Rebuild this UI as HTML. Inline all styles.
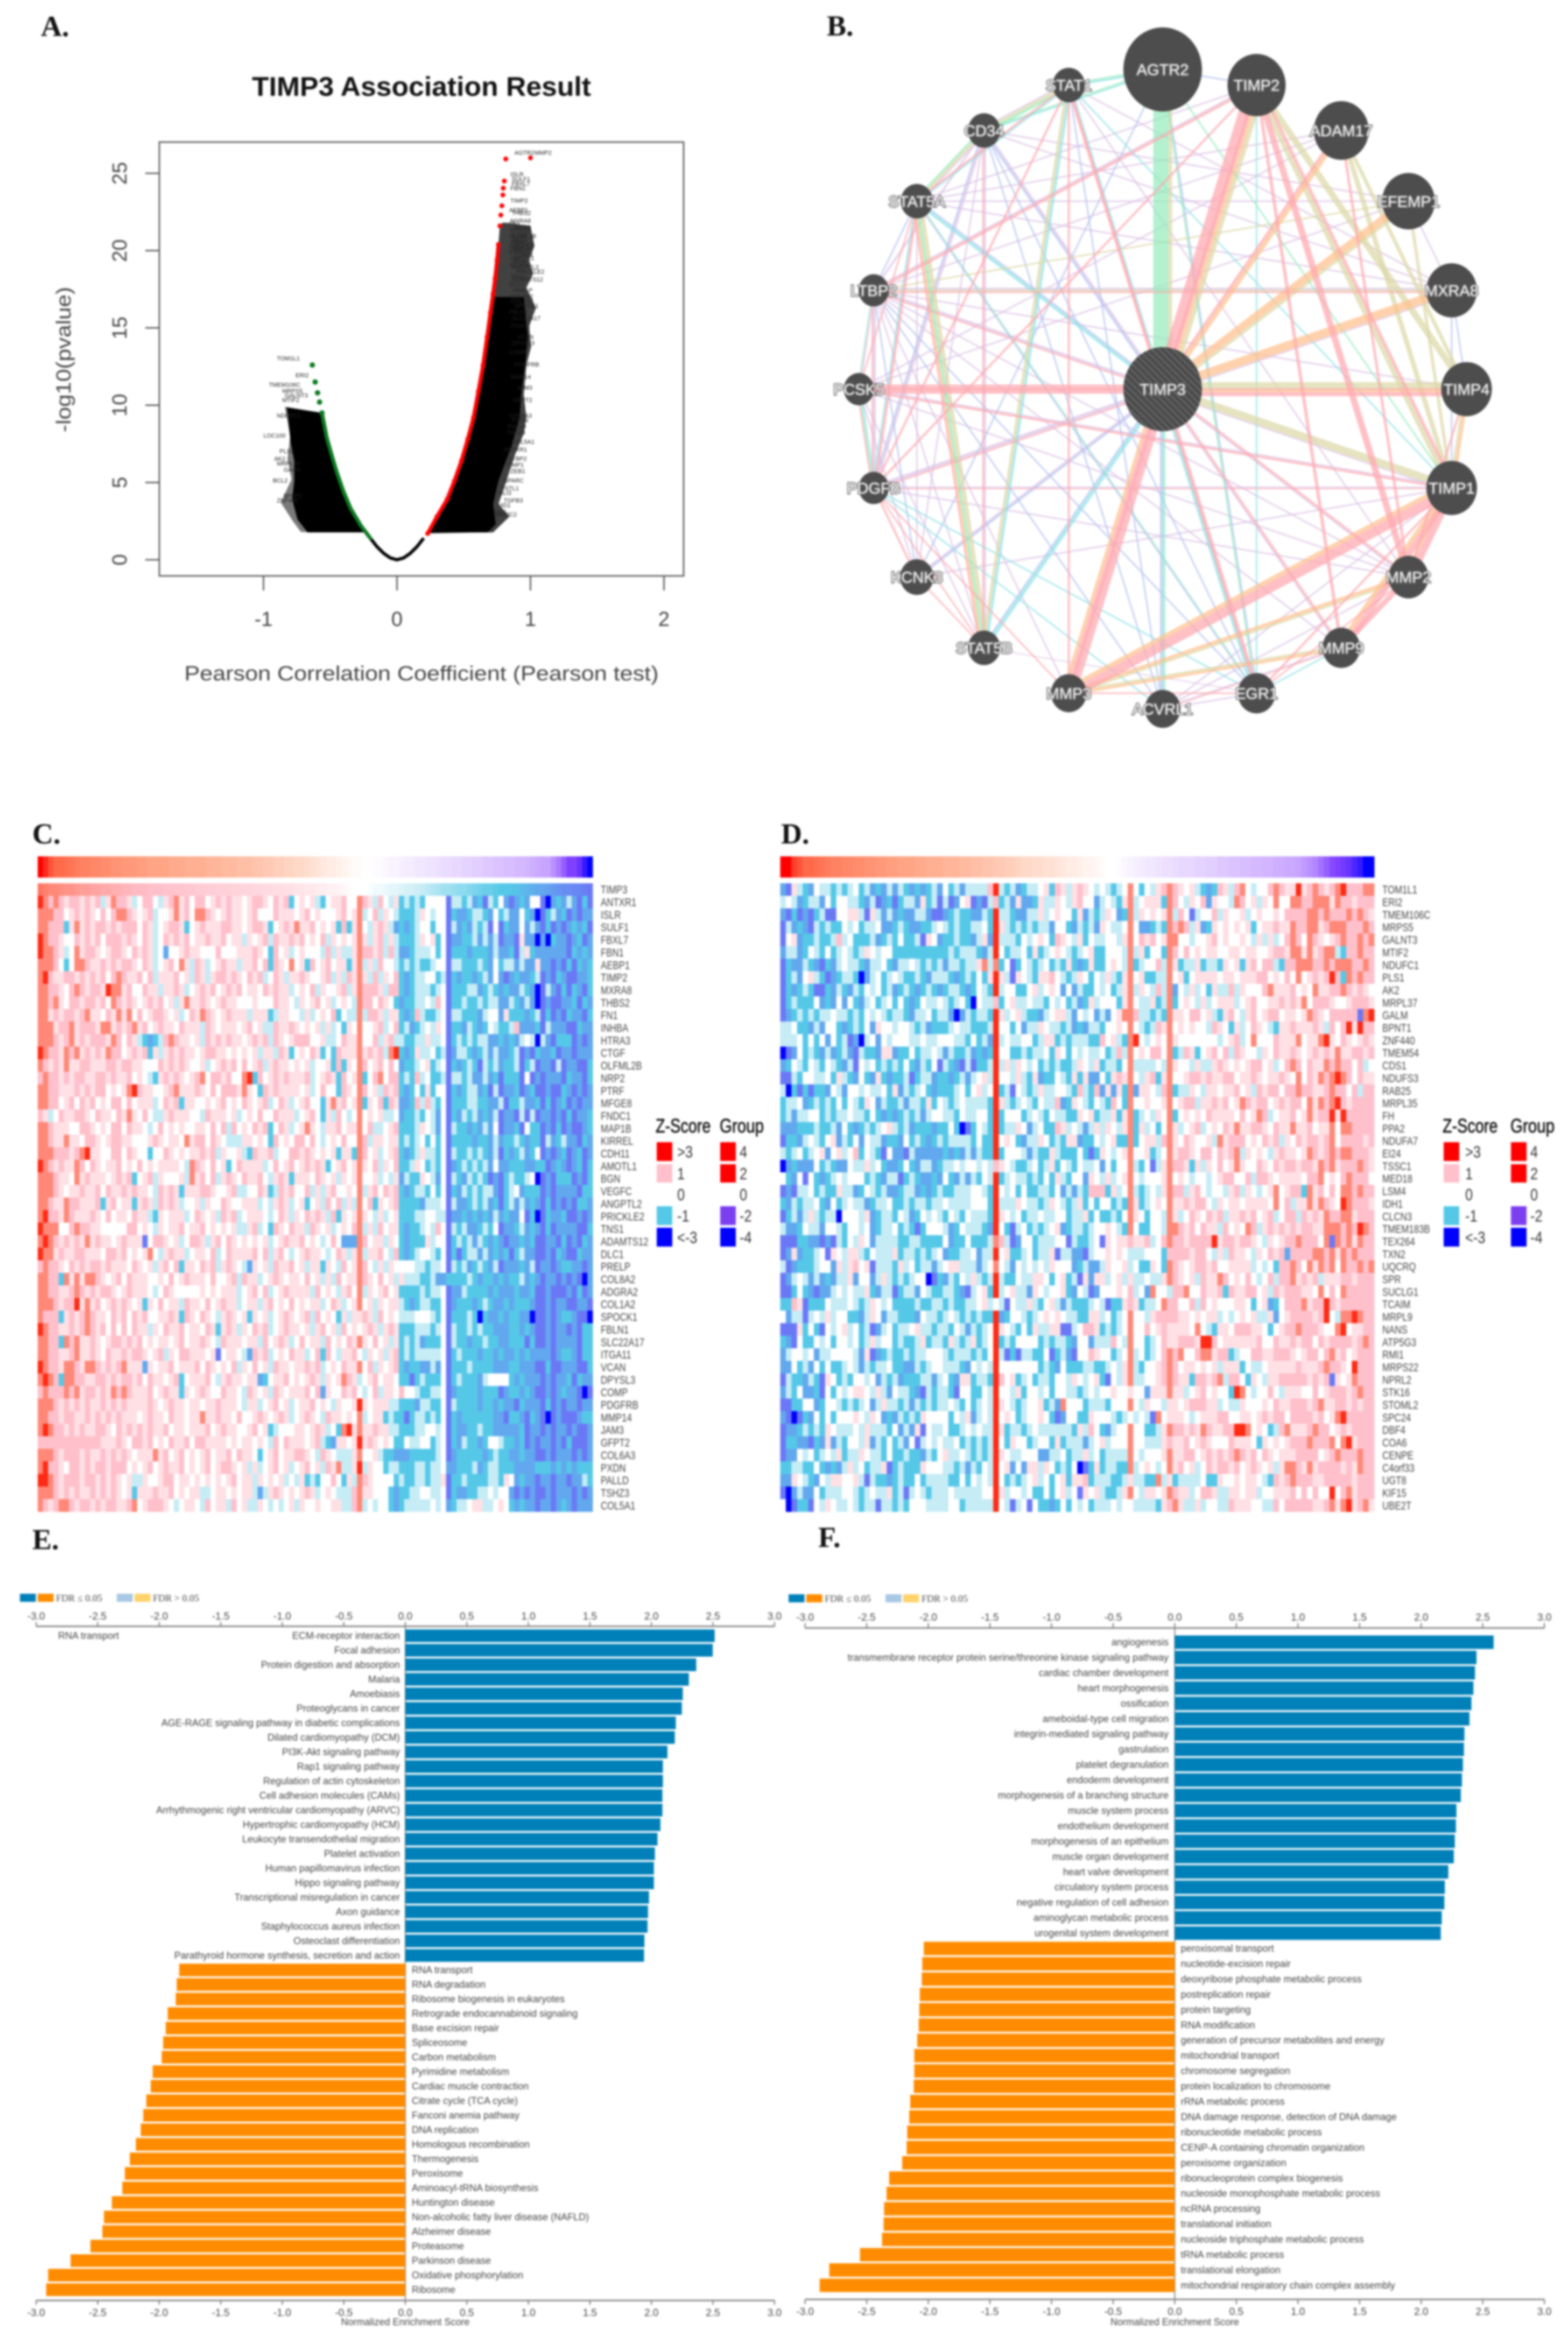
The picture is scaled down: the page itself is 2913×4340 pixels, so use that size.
<!DOCTYPE html>
<html lang="en">
<head>
<meta charset="utf-8">
<title>TIMP3 association figure</title>
<style>
html,body{margin:0;padding:0;background:#fff}
svg{display:block;filter:blur(1.9px);font-family:"Liberation Sans",sans-serif}
.plabel{font-family:"Liberation Serif",serif;font-weight:bold;font-size:54px;fill:#111}
</style>
</head>
<body>
<svg id="fig" xmlns="http://www.w3.org/2000/svg" width="2913" height="4340" viewBox="0 0 2913 4340">
<rect width="2913" height="4340" fill="#fff"/>
<defs>
<pattern id="hatch" width="9" height="9" patternUnits="userSpaceOnUse" patternTransform="rotate(-45)"><rect width="9" height="9" fill="#4a4a4a"/><rect width="2.5" height="9" fill="#6a6a6a"/></pattern>
</defs>
<text class="plabel" x="76" y="67">A.</text>
<text class="plabel" x="1536" y="66">B.</text>
<text class="plabel" x="60" y="1567">C.</text>
<text class="plabel" x="1451" y="1567">D.</text>
<text class="plabel" x="60" y="2878">E.</text>
<text class="plabel" x="1520" y="2874">F.</text>

<g id="panelA">
<text x="783" y="178" text-anchor="middle" font-weight="bold" font-size="50" fill="#111" textLength="630" lengthAdjust="spacingAndGlyphs">TIMP3 Association Result</text>
<text x="783" y="1264" text-anchor="middle" font-size="38" fill="#444" textLength="881" lengthAdjust="spacingAndGlyphs">Pearson Correlation Coefficient (Pearson test)</text>
<text transform="translate(131 668) rotate(-90)" text-anchor="middle" font-size="38" fill="#444" textLength="270" lengthAdjust="spacingAndGlyphs">-log10(pvalue)</text>
</g>
<g id="panelB"></g>
<g id="panelC"></g>
<g id="panelD"></g>
<g id="panelE"></g>
<g id="panelF"></g>
</svg>
<script>
/* ---------- A. volcano data ---------- */
const volcanoXTicks=[-1,0,1,2];
const volcanoYTicks=[0,5,10,15,20,25];
const redR=[.23,.3,.375,.43,.483,.53,.573,.61,.645,.675,.70,.72,.735,.75,.76,.771,.778,.786,.793,.796,.804,.815,1];
const redP=[1.7,2.8,3.9,5.1,6.4,7.8,9.2,10.9,12.6,14.4,16,17.2,18.2,19.4,20.4,21.6,22.3,22.9,23.6,24.04,24.5,25.93,26];
const greenR=[-.634,-.613,-.595,-.58,-.562,-.526,-.49,-.454,-.4,-.346,-.27,-.2];
const greenP=[12.6,11.5,10.8,10.2,9.5,7.9,6.8,5.75,4.4,3.3,2.2,1.4];
const nullR=[-.2,-.15,-.1,-.05,0,.05,.1,.15,.2];
const nullP=[1.4,.85,.42,.12,0,.12,.42,.85,1.4];
const solidRightR=[.72,.95,.98,.96,.93,.92,.86,.76,.72,.74,.68,.23];
const solidRightP=[17,17,14.4,12.6,10.7,9.2,7.4,5.1,3.6,2.3,1.77,1.77];
const fringeRightR=[.79,.82,1.0,1.03,.99,1.02,.97,1.041,.99,1.005,.97,.95,.969,.951,.88,.82,.76,.843,.72,.6];
const fringeRightP=[21.8,21.8,21.6,20.3,19.4,18.5,17.6,16.3,15.1,13.8,12.6,10.7,9.2,8.2,6.7,5.1,3.6,2.8,1.77,1.77];
const solidLeftR=[-.826,-.815,-.797,-.77,-.77,-.785,-.745,-.67,-.25];
const solidLeftP=[9.86,9.2,7.6,6.4,5.1,3.9,2.6,1.77,1.77];
const fringeLeftR=[-.84,-.80,-.82,-.79,-.87,-.78,-.72,-.65];
const fringeLeftP=[9.9,8,6.5,5.2,3.7,2.5,1.8,1.77];
const volcanoLabelNames=["AGTR2","MMP2","ISLR","SULF1","FBXL7","FBN1","TIMP2","AEBP1","THBS2","MXRA8","FN1","INHBA","HTRA3","CTGF","OLFML2B","NRP2","PTRF","MFGE8","FNDC1","MAP1B","KIRREL","CDH11","AMOTL1","BGN","VEGFC","ANGPTL2","PRICKLE2","TNS1","ADAMTS12","DLC1","PRELP","COL8A2","COL1A2","SPOCK1","FBLN1","SLC22A17","ITGA11","VCAN","DPYSL3","COMP","PDGFRB","MMP14","JAM3","GFPT2","COL6A3","PXDN","PALLD","TSHZ3","COL5A1","ANTXR1","LTBP2","TIMP1","ZEB1","SPARC","FSTL1","GLI3","TGFB3","NID1","LOX","SMOC2"];
const volcanoLabelR=[.88,1.03,.85,.86,.86,.85,.85,.84,.86,.85,.84,.87,.85,.86,.84,.86,.85,.87,.84,.86,.84,.88,.85,.87,.84,.86,.89,.85,.86,.84,.87,.85,.85,.88,.84,.86,.85,.9,.86,.84,.88,.85,.9,.87,.84,.86,.83,.82,.86,.8,.84,.82,.85,.8,.78,.76,.8,.75,.73,.74];
const volcanoLabelP=[26.2,26.2,24.8,24.5,24.2,23.9,23.1,22.5,22.3,21.8,21.6,21.4,21.2,20.9,20.8,20.6,20.4,20.3,20.1,20,19.8,19.6,19.4,19.2,19,18.8,18.5,18.2,18,17.7,17.3,16.9,16.6,16.3,15.9,15.5,15,14.3,13.9,13.3,12.5,11.7,11,10.2,9.2,8.9,8.5,8.1,7.5,7,6.4,6,5.6,5,4.5,4.2,3.7,3.4,3,2.8];
const volcanoLeftNames=["TOM1L1","ERI2","TMEM106C","MRPS5","GALNT3","MTIF2","NDUFC1","LOC100","PLS1","AK2","MRPL37","GALM","BCL2","BPNT1","ZNF440"];
const volcanoLeftR=[-.9,-.76,-.96,-.86,-.84,-.86,-.9,-1.0,-.88,-.92,-.9,-.85,-.93,-.85,-.9];
const volcanoLeftP=[12.9,11.8,11.2,10.8,10.5,10.2,9.2,7.9,6.9,6.4,6.1,5.7,5,4,3.7];

/* ---------- B. network data ---------- */
const ringNames=["AGTR2","TIMP2","ADAM17","EFEMP1","MXRA8","TIMP4","TIMP1","MMP2","MMP9","EGR1","ACVRL1","MMP3","STAT5B","KCNK3","PDGFB","PCSK5","LTBP2","STAT5A","CD34","STAT1"];
const ringSizes=[73,54,51,49,47,47,47,37,35,35,33,33,30,31,28,28,28,30,30,30];
const purpleEdges=[["TIMP3","TIMP1",3],["TIMP3","MMP2",3],["TIMP3","MMP9",3],["TIMP3","KCNK3",3],["TIMP3","PDGFB",7],["TIMP3","LTBP2",5],["TIMP3","CD34",4],["TIMP3","MXRA8",3],["ADAM17","LTBP2",3],["EFEMP1","STAT5A",3],["EFEMP1","MXRA8",3],["EFEMP1","CD34",3],["EFEMP1","PCSK5",3],["MXRA8","LTBP2",4],["MXRA8","STAT1",3],["MXRA8","CD34",3],["TIMP1","PDGFB",3],["TIMP1","ACVRL1",3],["TIMP1","KCNK3",3],["MMP2","ACVRL1",3],["MMP2","PCSK5",3],["MMP2","STAT1",3],["MMP9","ACVRL1",3],["MMP9","LTBP2",3],["EGR1","ACVRL1",3],["EGR1","STAT5B",2],["MMP3","LTBP2",3],["STAT5B","CD34",4],["STAT5B","PCSK5",3],["STAT5B","LTBP2",3],["STAT5A","KCNK3",3],["STAT5A","CD34",3],["CD34","STAT1",3],["CD34","LTBP2",4],["CD34","PDGFB",5],["CD34","KCNK3",3],["LTBP2","PCSK5",4],["LTBP2","PDGFB",5],["LTBP2","MMP2",3],["PCSK5","KCNK3",3],["PCSK5","TIMP1",3],["PDGFB","MMP2",3],["TIMP2","LTBP2",3],["TIMP2","STAT5A",3],["ADAM17","STAT5A",3],["ADAM17","PCSK5",3],["TIMP4","LTBP2",3],["MXRA8","STAT5A",3]];
const blueEdges=[["TIMP3","ACVRL1",4],["TIMP3","STAT5B",3],["TIMP3","KCNK3",4],["TIMP3","STAT5A",3],["TIMP3","CD34",4],["MXRA8","TIMP1",3],["MXRA8","TIMP4",3],["EGR1","STAT5A",3],["EGR1","CD34",3],["ACVRL1","CD34",3],["ACVRL1","LTBP2",3],["ACVRL1","STAT1",3],["STAT5A","LTBP2",3],["CD34","PDGFB",3],["LTBP2","KCNK3",3],["LTBP2","EGR1",3],["KCNK3","AGTR2",3],["AGTR2","TIMP2",3],["AGTR2","EGR1",3]];
const cyanEdges=[["TIMP3","EGR1",7],["TIMP3","ACVRL1",3],["TIMP3","STAT5B",7],["TIMP3","STAT5A",6],["TIMP3","STAT1",3],["TIMP2","EGR1",3],["MMP9","EGR1",3],["STAT5B","STAT1",5],["STAT5A","STAT1",3],["STAT5A","PDGFB",3],["CD34","AGTR2",3],["STAT1","AGTR2",4],["PCSK5","PDGFB",3],["PDGFB","ACVRL1",3],["PDGFB","EGR1",3],["STAT1","TIMP1",3]];
const khakiEdges=[["TIMP3","AGTR2",7],["TIMP3","TIMP2",7],["TIMP3","EFEMP1",5],["TIMP3","TIMP4",14],["TIMP3","TIMP1",14],["TIMP2","TIMP1",9],["TIMP2","TIMP4",12],["ADAM17","TIMP1",9],["ADAM17","TIMP4",7],["EFEMP1","TIMP1",6],["EFEMP1","LTBP2",3],["TIMP4","TIMP1",4],["MMP2","MMP3",4],["MMP9","MMP3",4],["STAT5A","STAT5B",8],["STAT5B","STAT1",6],["STAT5A","CD34",5],["CD34","STAT1",5],["MXRA8","LTBP2",3]];
const greenEdges=[["TIMP3","AGTR2",28],["TIMP3","ACVRL1",3],["STAT5A","STAT5B",5],["STAT5A","CD34",4],["CD34","STAT1",5],["CD34","AGTR2",3],["STAT1","AGTR2",3],["PCSK5","PDGFB",3],["AGTR2","EGR1",3],["AGTR2","TIMP1",3],["STAT5A","EGR1",2],["PCSK5","LTBP2",2]];
const orangeEdges=[["TIMP3","TIMP2",6],["TIMP3","ADAM17",8],["TIMP3","EFEMP1",14],["TIMP3","MXRA8",16],["TIMP3","TIMP4",4],["TIMP3","MMP3",6],["TIMP4","TIMP1",6],["TIMP1","MMP2",6],["TIMP1","MMP9",8],["TIMP1","MMP3",8],["MMP2","MMP3",6],["MMP9","MMP3",5],["STAT5A","STAT5B",4]];
const pinkEdges=[["TIMP3","TIMP2",22],["TIMP3","ADAM17",5],["TIMP3","TIMP4",8],["TIMP3","MMP2",4],["TIMP3","MMP9",4],["TIMP3","EGR1",5],["TIMP3","MMP3",20],["TIMP3","PDGFB",3],["TIMP3","PCSK5",10],["TIMP3","PCSK5",7],["TIMP3","LTBP2",3],["TIMP3","STAT1",6],["TIMP2","MMP2",12],["TIMP2","TIMP1",6],["TIMP2","MMP9",6],["TIMP2","MMP3",5],["TIMP2","LTBP2",5],["TIMP2","PDGFB",4],["ADAM17","MMP2",5],["TIMP4","MMP2",4],["TIMP4","PCSK5",3],["TIMP1","MMP2",14],["TIMP1","MMP9",12],["TIMP1","MMP3",18],["TIMP1","EGR1",4],["TIMP1","PCSK5",4],["MMP2","MMP9",10],["MMP2","EGR1",3],["EGR1","MMP3",3],["EGR1","STAT1",3],["MMP3","STAT1",4],["MMP3","PDGFB",3],["STAT5A","STAT5B",3],["STAT5B","CD34",3],["STAT5B","PDGFB",3],["STAT5B","KCNK3",3],["STAT5A","STAT1",4],["STAT5A","PDGFB",5],["STAT5A","PCSK5",3],["STAT1","PDGFB",4],["LTBP2","PDGFB",3],["PCSK5","PDGFB",3],["PDGFB","KCNK3",4],["MXRA8","LTBP2",3],["TIMP1","PDGFB",2],["MMP9","ACVRL1",2]];

/* ---------- C. heatmap data: one digit per sample, digit indexes zLevels; first row is the sorted TIMP3 z-score ---------- */
const zLevels=[-3,-2.2,-1.5,-1,-.4,0,.4,1,2,3];
const genesC=["TIMP3","ANTXR1","ISLR","SULF1","FBXL7","FBN1","AEBP1","TIMP2","MXRA8","THBS2","FN1","INHBA","HTRA3","CTGF","OLFML2B","NRP2","PTRF","MFGE8","FNDC1","MAP1B","KIRREL","CDH11","AMOTL1","BGN","VEGFC","ANGPTL2","PRICKLE2","TNS1","ADAMTS12","DLC1","PRELP","COL8A2","ADGRA2","COL1A2","SPOCK1","FBLN1","SLC22A17","ITGA11","VCAN","DPYSL3","COMP","PDGFRB","MMP14","JAM3","GFPT2","COL6A3","PXDN","PALLD","TSHZ3","COL5A1"];
const groupC=[4,3.6,3.2,3,3,2.9,2.8,2.7,2.6,2.6,2.5,2.5,2.4,2.4,2.3,2.3,2.2,2.2,2.2,2.1,2.1,2,2,2,2,1.9,1.9,1.9,1.8,1.8,1.8,1.8,1.7,1.7,1.7,1.6,1.6,1.6,1.5,1.5,1.5,1.4,1.4,1.3,1.3,1.2,1.2,1.1,1.1,1,1,.9,.8,.7,.6,.5,.5,.4,.3,.2,.1,.1,0,0,-.1,-.1,-.2,-.3,-.3,-.4,-.5,-.5,-.6,-.6,-.7,-.7,-.8,-.9,-.9,-1,-1,-1.1,-1.1,-1.2,-1.2,-1.3,-1.3,-1.4,-1.4,-1.5,-1.5,-1.6,-1.6,-1.7,-1.8,-1.9,-2,-2,-2.2,-2.4,-2.7,-3,-3,-3.2,-3.6,-4];
const timp3Z=[2.2,2.1,2,2,1.9,1.8,1.8,1.7,1.6,1.6,1.5,1.5,1.4,1.4,1.3,1.3,1.2,1.2,1.1,1.1,1.1,1,1,1,.95,.95,.9,.9,.85,.85,.8,.8,.75,.75,.7,.7,.7,.65,.65,.6,.6,.55,.55,.5,.5,.45,.45,.4,.4,.35,.35,.3,.3,.25,.25,.2,.2,.15,.1,.05,0,0,0,-.05,-.1,-.1,-.15,-.2,-.2,-.25,-.3,-.3,-.35,-.4,-.45,-.5,-.55,-.6,-.6,-.65,-.7,-.7,-.75,-.8,-.85,-.9,-.9,-.95,-1,-1,-1.05,-1.1,-1.2,-1.3,-1.4,-1.5,-1.5,-1.6,-1.7,-1.8,-1.9,-1.9,-2,-2,-2.1,-2.2];
const heatC=[
timp3Z,
"9878767767 6746877645 7754678675 7756767665 6776576735 6564356675 5876475463 4343555514 4342314352 1232551023 242131",
"8887756767 6575788765 6745568675 8876567665 6755576665 6756555675 6845746543 3346545513 2234432534 2253201342 312122",
"8877736867 6776767775 7645677635 6766677665 6776356768 6675656373 6854676423 2345535514 2324341513 2252421312 123231",
"9877655767 6757776765 7645767675 6676675664 6567476676 7565746565 6864674643 3346563512 2334242412 2162202032 212312",
"9887645867 7656776576 7645255676 6555755566 6765375645 6555474644 6877674742 2344453513 3323332422 3146322222 213232",
"8887535887 6676767765 7645675864 7645676646 6757376585 6375675663 6846475543 4343345514 4333432534 4242262212 131323",
"8976677676 7675787667 5746667564 7646776765 7674576466 7655674647 6864746573 2344553413 2332342521 2322341213 211223",
"8877657876 7769886755 7664667645 6767567675 6657676645 6574655674 6877764773 2344434513 3344234323 2243201421 313213",
"8878657767 7675876765 6767564686 6765676655 5655576654 6567564565 4877576532 3344547513 3433434422 4324201211 223132",
"8867677678 6657686857 5677656457 6876567666 4666346655 4645657354 4847764663 2374334514 4333245526 3332341312 132213",
"8886778677 7688676786 7567665766 6476566656 7564476676 5656464536 5855674573 4234546513 3243235433 4722231422 211322",
"8887678676 7776875764 3234787665 6476767665 6767476567 7755644576 6855746744 3344644513 4343442232 3245404213 331212",
"9877687867 6768775676 7364676766 5677665656 5646647635 6576353766 6867674893 2364453412 4432342422 3412132231 221222",
"8767686677 6667767766 5557676765 5645676757 5674676656 5645563736 5875675752 3345634513 2343143423 3413412214 122113",
"7877676776 6776766756 5436767656 7857767558 9375676766 6745676375 6835785773 4374533414 4342242313 3315121222 132213",
"8877666767 6775656897 6655678666 7657577768 6537676666 5645755376 5875647673 2353635513 2344231412 2312311211 321212",
"8877567576 7565775756 6645767366 5565675657 6567457645 6755368675 6836573762 2374743513 3344332241 3342231312 312122",
"7645766776 5766576865 7544676665 5476665645 6575576664 5675364754 5856564452 3343542513 2434232412 2141412212 131223",
"8876665577 6565775766 5457565655 6657574756 5767357645 6865466756 6857445673 3346542514 3323242512 2315331213 121123",
"8876686657 7656776655 5676566586 7757654446 6565375657 7575456575 5874665663 4345353513 3332332423 3432331423 422132",
"8887776789 6655775765 5355765656 6767465564 3766745577 6765656366 3875645673 2346443514 3343432413 2342351212 312312",
"9876766875 7656675657 5656666548 7657563576 6664575675 6767635675 6865746573 3465343512 3434342522 3332233123 212313",
"8887665867 6665676735 6746555648 6757467657 6675467636 6657656465 6855645462 4336542514 3243431213 4334501213 331213",
"8887656676 6757667676 6547676366 6776556744 5576347675 5746467556 5846757673 2344353513 2434344213 4523331212 222133",
"8876687766 6736756636 7647676455 6465576556 6645467645 6356475746 4857365673 3332444514 2234342313 4242321312 121332",
"8977687666 7657566576 6436566645 7656476745 6665457646 5767647365 6865464563 3344554412 2323232423 2251301322 311212",
"9888557877 6655555775 6546566756 6756565644 6745376576 6476564565 7846475663 2334547514 3422343512 2342321312 222113",
"8987676768 6766567666 1577656457 7646757656 5656456766 7565457522 2875664653 2333645513 4342432321 2232311221 312132",
"9886766776 6657767565 6854676645 6657457666 6757467545 6766545764 6846675473 2345543513 1344242323 1342211213 211322",
"7877657676 7767666576 5646757366 5767467654 2656476675 6466365475 6875464655 5544344514 3423432412 2232412212 332212",
"8877386868 8765675766 6556575676 6657556747 6645676566 5756464756 6876575646 4443342233 3343233232 3342321221 212102",
"8877667876 7677656766 6545765555 5656566645 6757456766 6647565467 5846567563 3334344512 2433332322 2322311211 121312",
"8887677968 6756767656 3657566476 6575676645 6646756575 6566457645 6856465664 3234433512 3332343223 2333211212 211221",
"8777367678 7665767576 7556676376 5765467656 3656456765 6747565364 6676475654 4455543513 3343032232 3322011212 332110",
"9877667678 7675757576 6465766756 6576367646 5767456766 5646756475 6567646763 3344434514 3343433222 3323211212 212133",
"8877387866 7656776767 5656656756 6765476665 6647567645 7566475657 6865756463 4342333514 3323343322 3331311212 222133",
"8877667866 7657667677 6567465776 6656156654 2767456576 6457375466 7546564673 4344444513 4333233232 2323222212 332133",
"9877688768 8767678666 2656675666 7576565746 5756476656 6767456576 6857465673 2332242513 3343333222 3322211311 222113",
"8987388776 6776767767 5766567356 6675467665 6623566756 5676465687 6456756653 3134333513 4333245555 3232221212 231322",
"7877787867 7676878766 6756766365 6765576654 7656476566 6757265576 7545746657 5543344512 3333233312 3323211212 322101",
"8887676767 6676767666 6765676656 6566766654 6645675645 6675654655 6965666443 3324433514 3333233232 2132221312 122122",
"8877677667 6767676665 6766576656 6866766575 5676567645 6765476656 5845663433 1344343513 2333333221 3321321012 111233",
"8987767676 6776576767 6766756656 6675676655 6756345556 6567645389 6866766443 3344554513 2233433222 2231221212 212112",
"7777777777 7766676577 6756576675 7766665656 6565475766 6567432665 6967656533 5445534513 2433235543 3231212212 131112",
"8887677767 6676767656 6686756756 5675667576 6535675667 7654765444 6855643322 2333334512 3333323433 2232211212 221212",
"8977657767 6776777565 6756766756 5675677656 4645675645 6756476844 6946553443 3344344522 3334234433 3222233323 232333",
"9987677767 7676765644 6556775665 6565656756 6465656454 6343557536 4876555534 3344344613 3433334436 5232212212 212243",
"8887676766 7676765636 6676675656 6445665656 6424676565 6764565444 7866555323 3445544513 2233445455 2121211212 221212",
"8767887677 6767766785 6777654566 5475664756 4465454564 6556556644 7845455323 4444454523 4456644565 3232212212 321222"
];
/* ---------- D. heatmap data ---------- */
const genesD=["TOM1L1","ERI2","TMEM106C","MRPS5","GALNT3","MTIF2","NDUFC1","PLS1","AK2","MRPL37","GALM","BPNT1","ZNF440","TMEM54","CDS1","NDUFS3","RAB25","MRPL35","FH","PPA2","NDUFA7","EI24","TSSC1","MED18","LSM4","IDH1","CLCN3","TMEM183B","TEX264","TXN2","UQCRQ","SPR","SUCLG1","TCAIM","MRPL9","NANS","ATP5G3","RMI1","MRPS22","NPRL2","STK16","STOML2","SPC24","DBF4","COA6","CENPE","C4orf33","UGT8","KIF15","UBE2T"];
const groupD=[4,4,3.4,3.2,3,3,2.9,2.8,2.7,2.6,2.6,2.5,2.5,2.4,2.4,2.3,2.3,2.2,2.2,2.1,2.1,2,2,2,1.9,1.9,1.8,1.8,1.8,1.7,1.7,1.7,1.6,1.6,1.5,1.5,1.4,1.4,1.3,1.3,1.2,1.2,1.1,1,1,.9,.9,.8,.8,.7,.6,.5,.5,.4,.3,.3,.2,.1,0,0,-.1,-.2,-.3,-.4,-.5,-.6,-.6,-.7,-.8,-.8,-.9,-1,-1,-1,-1.1,-1.1,-1.2,-1.2,-1.3,-1.3,-1.4,-1.4,-1.5,-1.5,-1.6,-1.6,-1.7,-1.7,-1.8,-1.8,-1.9,-1.9,-2,-2.1,-2.2,-2.3,-2.5,-2.7,-2.9,-3,-3.1,-3.2,-3.4,-3.6,-4,-4];
const heatD=[
"2164325443 4345342324 2432323425 3424444794 3423445637 6467654543 4585354678 7656432376 4785455787 6696787678 977788",
"4542344253 5544324123 1344263414 1256121473 4262236446 5467552454 3684566638 7546572655 4875646585 5887788868 776777",
"2131213411 5566416424 2322442112 3433224394 4322446456 5536243465 2384656568 4751455746 5564565565 7777887877 787876",
"1423214343 3545344522 3432233454 3433445396 4343434425 5324342654 4585223438 7874623656 5656356676 6877886788 877787",
"1562334334 7453334234 3533416523 3433246294 4435456537 6546354455 4685767568 8554556756 5565464645 7875876567 877878",
"2442354353 4543465455 3333333333 4344432495 3445363456 5434563355 5484635538 7575656655 6656655677 6886867884 377877",
"1322432132 4544324453 2445434342 4434468483 5135434534 3632363356 5483455748 6344634436 5636757743 7788877878 887787",
"1342564312 3443024534 5433432444 3234353696 4165436675 4346535464 3685633448 5635666656 6566677565 7585676797 387877",
"1323431132 4324354534 2343234323 4432354394 5533564565 2524335453 4684654748 2546453644 7465557866 6756586677 876765",
"1343335232 5253245345 3532354454 3453054473 5644544354 5342364555 3685446348 3565464566 6456755667 6768577765 567776",
"1234343445 4434354543 4432445344 2024344396 4564332456 6425452425 6887443438 6657756436 7546756775 6656876577 777189",
"4453324255 3234352655 4554342333 4544333495 5352446544 3423244355 6585434768 5656554765 3645765436 6766676475 796977",
"4445353525 3412045254 5554454455 5443534294 5445534663 4344433756 4389545658 6555555545 6745855576 6685668965 765676",
"0125343242 3421433266 2335344542 4334232395 5334344536 5354544534 7485657758 3476356757 4765546576 6765676768 667767",
"2354354354 3241545343 4353243514 3214133494 6465453434 3346546344 3584444548 6554644676 5656775645 7875766878 775745",
"1143554453 6432532632 3341344233 2342456495 5464362335 4363622536 7685467368 5567767667 7566765667 6585768789 875766",
"4031313325 4255454453 6243453233 3453564593 4154346445 5437437262 6382665478 3446546656 6756476775 7787766787 757477",
"3445234343 5354365243 3424436354 3454444396 4345435447 2365435437 5385565568 5677466767 5687677567 6775868789 767777",
"3424455343 4454435323 2343424554 4354455393 5553454354 4336563446 3683454658 3565657666 6575687456 6756867796 977777",
"2223334334 2532343456 4342333233 5301354393 4465245337 6454246465 4683645358 6456745657 6866776576 6866756685 887777",
"1332454356 2435254423 3253432343 4444353395 6532446534 3662335456 3383566478 6576556486 7775657674 6576776785 777767",
"4345345625 6457354315 2214222223 2324243393 5554243364 3335313654 5685563458 6776577576 7846565467 6656876787 887776",
"0232225343 2254464532 2353244234 4545545476 5433453463 5435445253 5584351468 7763646575 6865576576 7767768786 777876",
"5325153234 5455534324 4134322325 3242435493 4544343536 4355265464 5685455568 5654554567 7557477656 6665778565 787775",
"1214453433 6442354342 2344232343 3444554395 4535334435 2424377736 4584345468 7746754554 6746545685 6773867575 887877",
"3243445325 3454423445 3343443445 4444555394 4465443465 4346353553 4386345658 6676775465 6656666585 7466868765 987776",
"1342464344 0555462344 3542354543 5435444396 5453445445 5344635334 3586535548 6457657674 6676756745 7747676877 886777",
"4223544255 4355452344 5343135554 2354443295 3145343456 2344345565 4385335548 8767576647 5658746767 6767766888 787987",
"1113322121 4354652444 4334433335 2335333487 4125534445 5143345165 6676674578 7767777967 7677654656 7787775818 786877",
"1262334516 5466435444 6344343452 3344524495 6334534461 4422145565 6544455537 7776775464 7665465767 2777788786 878777",
"4123334552 6467561444 3645344245 6644424585 4254545465 5523422465 5645336538 7656776755 6666454537 7875868785 877878",
"1245424232 4462552464 3434550132 4354643494 3354466535 6341626645 6464454468 7656476687 5657545747 7867674666 776777",
"1135321224 5454463244 1344254334 4321456394 5644265455 6325412555 6574528554 7785576673 7667756476 7776658575 877777",
"3376133354 4454346545 3333433443 4334456454 1544643564 2433345413 3676344587 7557475655 5665356235 7778677976 777777",
"5244145464 5533246524 4333254434 5434343392 3554345656 5443366453 4585546777 7665656645 4565644625 6777767954 889877",
"1116353154 5645341245 3445644344 3542434596 5435364466 1145776343 4585575676 6665854366 5777665356 7787776558 956677",
"3215335453 5545346455 3433463443 6434634593 4355553434 4325524447 5485534576 6777699756 6666675576 6767757677 776787",
"2455452445 5554261234 3343445554 3444343594 1314433513 4215576553 4584534578 7855788677 3455776677 7656775786 756777",
"2253425353 3454243445 3322434554 4432545495 5555553432 5333443345 4684355678 7566565646 6635445666 6676667877 659777",
"1433243165 3435545243 4233344245 3266344397 5634534435 5465456315 4684455678 7663776784 7753654667 7777676716 568777",
"2435223153 5456654642 5443214344 3155335495 5463554535 5443454556 5565526668 6645675655 3985455754 6665575677 767877",
"1133552355 4343452464 4342434344 5435345496 5434556342 8555344435 5585465546 6567776645 4465556576 6777678667 767677",
"2101325353 5556546523 2434365555 3546245495 6534556531 2553365554 3454541856 6654566677 5566567677 5777767568 977777",
"1223434365 4445464443 5242615445 3345454496 3443454444 4436475324 5585533468 7767687667 7998565347 8666787756 767777",
"1332213262 4355462435 3425145454 4534343495 3655345536 3444245645 5585544467 6675676555 7666536565 6777877785 896777",
"1225453454 6344654435 3343324356 4454343496 5445552244 5344645344 4485455568 6677567676 7876757656 6677775678 777877",
"3344335323 2464534461 3433365554 4342435495 6252664653 4350136344 3384565458 6756457677 6756765646 8876867777 676877",
"2265432546 6556414332 3433534444 3353545495 3434564535 6366734443 3464433846 3444453365 5656654376 7877766777 776777",
"1024225344 4554345446 3414543444 5444445596 4554533535 6451656433 4685466568 7664577644 6656645566 6757575595 786777",
"5013315465 4454344144 3435554444 5534444495 4145153323 5354534445 4554444367 8644645544 7666554475 7777766786 896786"
];

/* ---------- E / F. enrichment data ---------- */
const nesTicks=["-3.0","-2.5","-2.0","-1.5","-1.0","-0.5","0.0","0.5","1.0","1.5","2.0","2.5","3.0"];
const keggUpNames=["ECM-receptor interaction","Focal adhesion","Protein digestion and absorption","Malaria","Amoebiasis","Proteoglycans in cancer","AGE-RAGE signaling pathway in diabetic complications","Dilated cardiomyopathy (DCM)","PI3K-Akt signaling pathway","Rap1 signaling pathway","Regulation of actin cytoskeleton","Cell adhesion molecules (CAMs)","Arrhythmogenic right ventricular cardiomyopathy (ARVC)","Hypertrophic cardiomyopathy (HCM)","Leukocyte transendothelial migration","Platelet activation","Human papillomavirus infection","Hippo signaling pathway","Transcriptional misregulation in cancer","Axon guidance","Staphylococcus aureus infection","Osteoclast differentiation","Parathyroid hormone synthesis, secretion and action"];
const keggUpNES=[2.514,2.498,2.364,2.304,2.255,2.247,2.198,2.19,2.13,2.093,2.093,2.089,2.089,2.073,2.049,2.028,2.02,2.02,1.98,1.972,1.968,1.943,1.94];
const keggDownNames=["RNA transport","RNA degradation","Ribosome biogenesis in eukaryotes","Retrograde endocannabinoid signaling","Base excision repair","Spliceosome","Carbon metabolism","Pyrimidine metabolism","Cardiac muscle contraction","Citrate cycle (TCA cycle)","Fanconi anemia pathway","DNA replication","Homologous recombination","Thermogenesis","Peroxisome","Aminoacyl-tRNA biosynthesis","Huntington disease","Non-alcoholic fatty liver disease (NAFLD)","Alzheimer disease","Proteasome","Parkinson disease","Oxidative phosphorylation","Ribosome"];
const keggDownNES=[-1.838,-1.858,-1.866,-1.931,-1.947,-1.968,-1.98,-2.053,-2.069,-2.105,-2.13,-2.15,-2.19,-2.239,-2.279,-2.3,-2.385,-2.449,-2.462,-2.559,-2.72,-2.903,-2.919];
const goUpNames=["angiogenesis","transmembrane receptor protein serine/threonine kinase signaling pathway","cardiac chamber development","heart morphogenesis","ossification","ameboidal-type cell migration","integrin-mediated signaling pathway","gastrulation","platelet degranulation","endoderm development","morphogenesis of a branching structure","muscle system process","endothelium development","morphogenesis of an epithelium","muscle organ development","heart valve development","circulatory system process","negative regulation of cell adhesion","aminoglycan metabolic process","urogenital system development"];
const goUpNES=[2.588,2.449,2.437,2.424,2.408,2.392,2.351,2.347,2.339,2.331,2.322,2.286,2.282,2.273,2.265,2.22,2.192,2.188,2.167,2.159];
const goDownNames=["peroxisomal transport","nucleotide-excision repair","deoxyribose phosphate metabolic process","postreplication repair","protein targeting","RNA modification","generation of precursor metabolites and energy","mitochondrial transport","chromosome segregation","protein localization to chromosome","rRNA metabolic process","DNA damage response, detection of DNA damage","ribonucleotide metabolic process","CENP-A containing chromatin organization","peroxisome organization","ribonucleoprotein complex biogenesis","nucleoside monophosphate metabolic process","ncRNA processing","translational initiation","nucleoside triphosphate metabolic process","tRNA metabolic process","translational elongation","mitochondrial respiratory chain complex assembly"];
const goDownNES=[-2.037,-2.049,-2.053,-2.069,-2.073,-2.078,-2.09,-2.114,-2.114,-2.118,-2.147,-2.155,-2.171,-2.176,-2.212,-2.318,-2.339,-2.359,-2.363,-2.376,-2.555,-2.804,-2.882];

/* ---------- helpers ---------- */
const NS="http://www.w3.org/2000/svg";
function mk(tag,attrs,parent,txt){
  const e=document.createElementNS(NS,tag);
  for(const k in attrs)e.setAttribute(k,attrs[k]);
  if(txt!==undefined)e.textContent=txt;
  parent.appendChild(e);
  return e;
}
function hex(c){return [parseInt(c.slice(1,3),16),parseInt(c.slice(3,5),16),parseInt(c.slice(5,7),16)];}
function ramp(stops,colors,v){
  if(v<=stops[0])return colors[0];
  for(let i=1;i<stops.length;i++){
    if(v<=stops[i]){
      const t=(v-stops[i-1])/(stops[i]-stops[i-1]),a=hex(colors[i-1]),b=hex(colors[i]);
      return "rgb("+a.map((x,j)=>Math.round(x+(b[j]-x)*t)).join(",")+")";
    }
  }
  return colors[colors.length-1];
}

/* ---------- A. volcano ---------- */
(function(){
  const g=document.getElementById("panelA");
  const vx=r=>737.5+r*248;
  const vy=p=>1040-p*28.72;
  const poly=(rs,ps)=>rs.map((r,i)=>vx(r)+","+vy(ps[i])).join(" ");
  const ridgeRight=redR.slice(0,16).map((r,i)=>[r,redP[i]]);
  const ridgeLeft=greenR.slice(4).map((r,i)=>[r,greenP[i+4]]);

  const fr=mk("polygon",{points:poly(fringeRightR,fringeRightP)+" "+ridgeRight.map(a=>vx(a[0])+","+vy(a[1])).join(" "),fill:"#111","fill-opacity":.8},g);
  
  
  const sr=mk("polygon",{points:poly(solidRightR,solidRightP)+" "+ridgeRight.filter(a=>a[1]<=17.2).map(a=>vx(a[0])+","+vy(a[1])).join(" "),fill:"#000"},g);
  
  
  const fl=mk("polygon",{points:poly(fringeLeftR,fringeLeftP)+" "+vx(-.56)+","+vy(9.5),fill:"#222","fill-opacity":.6},g);
  
  
  const sl=mk("polygon",{points:poly(solidLeftR,solidLeftP)+" "+ridgeLeft.slice().reverse().map(a=>vx(a[0])+","+vy(a[1])).join(" "),fill:"#000"},g);
  
  

  const nl=mk("polyline",{points:poly(nullR,nullP),fill:"none",stroke:"#000","stroke-width":6},g);
  
  
  const rl=mk("polyline",{points:poly(redR.slice(0,15),redP.slice(0,15)),fill:"none",stroke:"#f00","stroke-width":7},g);
  
  
  const gl=mk("polyline",{points:poly(greenR.slice(4),greenP.slice(4)),fill:"none",stroke:"#0a7a20","stroke-width":7},g);
  
  
  redR.forEach((r,i)=>{
    const c=mk("circle",{cx:vx(r),cy:vy(redP[i]),r:4.5,fill:"#f00"},g);
    
    
  });
  greenR.forEach((r,i)=>{
    const c=mk("circle",{cx:vx(r),cy:vy(greenP[i]),r:i<5?5:3.5,fill:"#0a7a20"},g);
    
    
  });
  volcanoLabelNames.forEach((n,i)=>{
    const t=mk("text",{x:vx(volcanoLabelR[i]),y:vy(volcanoLabelP[i]),"font-size":11,fill:"#222"},g,n);
    
    
  });
  volcanoLeftNames.forEach((n,i)=>{
    const t=mk("text",{x:vx(volcanoLeftR[i]),y:vy(volcanoLeftP[i]),"font-size":11,fill:"#222"},g,n);
    
    
  });

  const box=mk("rect",{x:296,y:264,width:974,height:806,fill:"none",stroke:"#555","stroke-width":2.6},g);
  
  
  volcanoXTicks.forEach(v=>{
    const l=mk("line",{x1:vx(v),x2:vx(v),y1:1070,y2:1097,stroke:"#555","stroke-width":2.6},g);
    
    
    const t=mk("text",{x:vx(v),y:1163,"text-anchor":"middle","font-size":38,fill:"#444"},g,String(v));
    
    
  });
  volcanoYTicks.forEach(v=>{
    const l=mk("line",{x1:270,x2:296,y1:vy(v),y2:vy(v),stroke:"#555","stroke-width":2.6},g);
    
    
    const t=mk("text",{transform:"translate(235 "+vy(v)+") rotate(-90)","text-anchor":"middle","font-size":38,fill:"#444"},g,String(v));
    
    
  });
})();

/* ---------- B. network ---------- */
(function(){
  const g=document.getElementById("panelB");
  const cx=2160,cy=723,rx=564.5,ry=594;
  const pos={TIMP3:[cx,cy]};
  ringNames.forEach((n,i)=>{
    const a=i/ringNames.length*2*Math.PI;
    pos[n]=[cx+rx*Math.sin(a),cy-ry*Math.cos(a)];
  });
  const kinds=[[purpleEdges,"#dcc4e4","purple"],[blueEdges,"#b4c2f0","blue"],[cyanEdges,"#92e2e8","cyan"],[khakiEdges,"#dcd8a8","khaki"],[greenEdges,"#96ecbc","green"],[orangeEdges,"#ffc08e","orange"],[pinkEdges,"#ffa8ae","pink"]];
  const totals={},used={};
  const pairKey=(a,b)=>a<b?a+"|"+b:b+"|"+a;
  kinds.forEach(k=>k[0].forEach(e=>{const key=pairKey(e[0],e[1]);totals[key]=(totals[key]||0)+e[2];}));
  kinds.forEach(k=>{
    k[0].forEach(e=>{
      const key=pairKey(e[0],e[1]);
      const names=key.split("|");
      const p=pos[names[0]],q=pos[names[1]];
      const dx=q[0]-p[0],dy=q[1]-p[1],len=Math.hypot(dx,dy);
      const u=used[key]||0;
      const off=u+e[2]/2-totals[key]/2;
      used[key]=u+e[2];
      const ox=-dy/len*off,oy=dx/len*off;
      const l=mk("line",{x1:p[0]+ox,y1:p[1]+oy,x2:q[0]+ox,y2:q[1]+oy,stroke:k[1],"stroke-width":e[2],"stroke-opacity":.72},g);
      
      
    });
  });
  function node(name,size,fill){
    const p=pos[name];
    const c=mk("ellipse",{cx:p[0],cy:p[1],rx:size,ry:size*1.07,fill:fill},g);
    
    
    const t=mk("text",{x:p[0],y:p[1]+10.5,"text-anchor":"middle","font-size":29,fill:"#fff",stroke:"#6a6a6a","stroke-width":3.2,"paint-order":"stroke"},g,name);
    
    
  }
  ringNames.forEach((n,i)=>node(n,ringSizes[i],"#4d4d4d"));
  node("TIMP3",73,"url(#hatch)");
})();

/* ---------- C / D. heatmaps ---------- */
const zStops=[-3,-2.2,-1.5,-1,-.4,0,.4,1,2,3];
const zColors=["#0000ff","#6a78f6","#62a8ee","#55c8e8","#c6ecf6","#ffffff","#ffe0e5","#ffc0cb","#ff8878","#ff2a14"];
const groupStops=[-4,-3,-2,-1,0,1,2,3,4];
const groupColors=["#0000ff","#8040ff","#c8a4ff","#e8d8ff","#ffffff","#ffd9c8","#ffa585","#ff6a4a","#ff0000"];
function drawHeat(gid,rows,genes,groups,x0,x1,labelX,legendX,legendX2,labelOff){
  const g=document.getElementById(gid);
  const y0=1641,step=23.35;
  const bw=(x1-x0)/groups.length;
  groups.forEach((v,i)=>{
    const r=mk("rect",{x:x0+i*bw,y:1591,width:bw+.5,height:39.5,fill:ramp(groupStops,groupColors,v)},g);
    
    
  });
  rows.forEach((row,ri)=>{
    const vals=typeof row==="string"?row.replace(/\s/g,"").split("").map(d=>zLevels[+d]):row;
    const cw=(x1-x0)/vals.length;
    vals.forEach((z,c)=>{
      const r=mk("rect",{x:x0+c*cw,y:y0+ri*step,width:cw+.4,height:step+.4,fill:ramp(zStops,zColors,z)},g);
      
      
    });
    const t=mk("text",{transform:"translate("+labelX+" "+(y0+ri*step+step/2+7.5)+") scale(.8 1)","font-size":21,fill:"#444"},g,genes[ri]);
    
    
  });
  const legendY=[2122,2163,2202,2241,2281];
  const legendH=[35,34,34,35,35];
  const zLabels=[">3","1","0","-1","<-3"];
  const gLabels=["4","2","0","-2","-4"];
  const zFill=["#ff0000","#ffc0cb","#ffffff","#55c8e8","#0000ff"];
  const gFill=["#ff0000","#ff0000","#ffffff","#7b3ff0","#0000ff"];
  const h1=mk("text",{transform:"translate("+legendX+" 2104) scale(.8 1)","font-size":36,fill:"#111",stroke:"#111","stroke-width":.7},g,"Z-Score");
  
  
  const h2=mk("text",{transform:"translate("+legendX2+" 2104) scale(.82 1)","font-size":36,fill:"#111",stroke:"#111","stroke-width":.7},g,"Group");
  
  
  legendY.forEach((y,i)=>{
    const a=mk("rect",{x:legendX+2,y:y,width:29,height:legendH[i],fill:zFill[i]},g);
    
    
    const b=mk("rect",{x:legendX2+1,y:y,width:29,height:legendH[i],fill:gFill[i]},g);
    
    
    const ta=mk("text",{transform:"translate("+(legendX+labelOff)+" "+(y+legendH[i]/2+11)+") scale(.82 1)","font-size":31,fill:"#333"},g,zLabels[i]);
    
    
    const tb=mk("text",{transform:"translate("+(legendX2+37)+" "+(y+legendH[i]/2+11)+") scale(.82 1)","font-size":31,fill:"#333"},g,gLabels[i]);
    
    
  });
}
drawHeat("panelC",heatC,genesC,groupC,70,1101,1116,1218,1337,40);
drawHeat("panelD",heatD,genesD,groupD,1449.5,2553,2568,2680,2806,42);

/* ---------- E / F. enrichment bars ---------- */
function drawEnrichment(gid,upNames,upNES,downNames,downNES,cfg){
  const g=document.getElementById(gid);
  const sx=v=>cfg.zero+v*cfg.unit;
  const sy=i=>cfg.firstY+i*cfg.step;
  const zl=mk("line",{x1:cfg.zero,x2:cfg.zero,y1:cfg.topAxis,y2:cfg.bottomAxis,stroke:"#666","stroke-width":1.6},g);
  
  
  upNames.forEach((n,i)=>{
    const b=mk("rect",{x:cfg.zero,y:sy(i)-cfg.barH/2,width:sx(upNES[i])-cfg.zero,height:cfg.barH,fill:"#0080b8"},g);
    
    
    const t=mk("text",{x:cfg.upLabelX,y:sy(i)+6,"text-anchor":"end","font-size":18,fill:"#444"},g,n);
    
    
  });
  downNames.forEach((n,i)=>{
    const k=i+upNames.length;
    const b=mk("rect",{x:sx(downNES[i]),y:sy(k)-cfg.barH/2,width:cfg.zero-sx(downNES[i]),height:cfg.barH,fill:"#ff8c00"},g);
    
    
    const t=mk("text",{x:cfg.downLabelX,y:sy(k)+6,"font-size":18,fill:"#444"},g,n);
    
    
  });
  [[cfg.topAxis,-cfg.tickLen,cfg.topLabelY],[cfg.bottomAxis,cfg.tickLen,cfg.bottomLabelY]].forEach(a=>{
    const ax=mk("line",{x1:sx(-3),x2:sx(3),y1:a[0],y2:a[0],stroke:"#8a8a8a","stroke-width":3},g);
    
    
    nesTicks.forEach(s=>{
      const v=parseFloat(s);
      const l=mk("line",{x1:sx(v),x2:sx(v),y1:a[0],y2:a[0]+a[1],stroke:"#777","stroke-width":2},g);
      
      
      const t=mk("text",{x:sx(v),y:a[2],"text-anchor":"middle","font-size":19,fill:"#444"},g,s);
      
      
    });
  });
  const at=mk("text",{x:cfg.zero,y:4320,"text-anchor":"middle","font-size":18,fill:"#444"},g,"Normalized Enrichment Score");
  
  
  const sw=[["#0080b8",0],["#ff8c00",33],["#a9c8e4",180],["#ffd36b",213]];
  sw.forEach(s=>{
    const r=mk("rect",{x:cfg.legendX+s[1],y:cfg.legendY,width:29.5,height:15,fill:s[0]},g);
    
    
  });
  const l1=mk("text",{x:cfg.legendX+67,y:cfg.legendY+14,"font-family":"Liberation Serif,serif","font-size":17.5,fill:"#444",textLength:86,lengthAdjust:"spacingAndGlyphs"},g,"FDR \u2264 0.05");
  
  
  const l2=mk("text",{x:cfg.legendX+247,y:cfg.legendY+14,"font-family":"Liberation Serif,serif","font-size":17.5,fill:"#444",textLength:86,lengthAdjust:"spacingAndGlyphs"},g,"FDR > 0.05");
  
  
}
drawEnrichment("panelE",keggUpNames,keggUpNES,keggDownNames,keggDownNES,{zero:753,unit:228.6,firstY:3039,step:27,barH:23.5,topAxis:3021.5,bottomAxis:4274,tickLen:8,topLabelY:3009,bottomLabelY:4303,upLabelX:743,downLabelX:765,legendX:37,legendY:2961});
drawEnrichment("panelF",goUpNames,goUpNES,goDownNames,goDownNES,{zero:2182.4,unit:228.9,firstY:3051,step:28.45,barH:25,topAxis:3024.6,bottomAxis:4272,tickLen:9,topLabelY:3011,bottomLabelY:4301,upLabelX:2171,downLabelX:2193.6,legendX:1465,legendY:2962});
const stray=document.getElementById("panelE").appendChild(document.createElementNS(NS,"text"));
stray.setAttribute("x","108");
stray.setAttribute("y","3045");
stray.setAttribute("font-size","18");
stray.setAttribute("fill","#444");
stray.textContent="RNA transport";


</script>
</body>
</html>
